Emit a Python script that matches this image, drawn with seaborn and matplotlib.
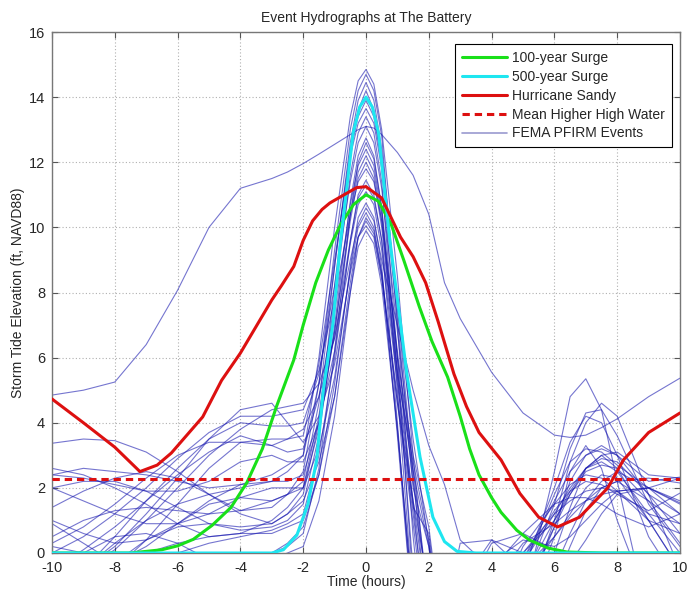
import numpy as np
import pandas as pd
import seaborn as sns
import matplotlib
matplotlib.use("Agg")
import matplotlib.pyplot as plt
from matplotlib.lines import Line2D

# common time grid (hours) for the FEMA PFIRM event hydrographs
event_time = [-10, -9, -8, -7, -6, -5, -4, -3, -2.5, -2,
              -1.5, -1, -0.5, -0.25, 0, 0.25, 0.5, 1, 1.5, 2,
              2.5, 3, 4, 5, 6, 6.5, 7, 7.5, 8, 9, 10]

# storm tide elevation for each event (ft); values < 0 fall below the axis
fema_events = [
    [-1, -0.5, 0.3, 1.0, 1.5, 1.8, 2.0, 2.2, 2.5, 3.0, 6.0, 10.0, 13.4, 14.5, 14.85, 14.4, 13.0, 8.5, 3.0, -2, -4, -5, -4, -2, 0.5, 2.5, 3.3, 2.6, 1.0, -1.5, -3],
    [3.37, 3.5, 3.45, 3.1, 2.5, 1.8, 1.3, 1.4, 1.8, 2.5, 5.2, 9.3, 13.0, 14.2, 14.7, 14.2, 12.8, 7.0, 0.5, -4, -4, -5, -4, -1.5, 2.5, 4.8, 5.35, 4.4, 2.2, -2, -3],
    [0.2, 0.0, -0.3, 0.2, 0.9, 1.5, 1.7, 1.6, 1.8, 2.2, 4.6, 8.8, 12.6, 13.9, 14.45, 13.9, 12.4, 7.5, 3.5, 0.3, -3, -5, -4, -1, 1.5, 3.2, 4.3, 4.4, 3.6, 1.5, 0.2],
    [1.4, 1.9, 2.3, 2.5, 2.3, 1.8, 1.2, 0.9, 1.2, 1.8, 4.0, 8.2, 12.2, 13.6, 14.2, 13.6, 12.0, 6.0, -1, -3, -4, -5, -3, -0.5, 1.8, 2.8, 3.2, 3.1, 2.7, 2.0, 1.5],
    [-1, -1, -0.5, 0.4, 1.5, 2.6, 3.4, 3.5, 3.5, 3.6, 5.8, 9.0, 12.2, 13.2, 13.65, 13.2, 11.8, 7.2, 2.0, 0.2, -3, -4, -2, 0.2, 1.5, 2.1, 2.4, 2.3, 1.9, 1.0, 0.6],
    [2.6, 2.4, 2.0, 1.5, 0.9, 0.5, 0.6, 1.0, 1.4, 2.0, 4.2, 7.8, 11.6, 12.9, 13.4, 12.9, 11.4, 5.5, -0.5, -3, -4, -5, -4, -2, 0.0, 1.4, 2.6, 3.0, 2.6, 1.0, -0.5],
    [-1, -0.5, 0.5, 1.6, 2.6, 3.5, 4.0, 3.9, 3.9, 4.0, 5.5, 8.2, 11.4, 12.6, 13.1, 12.6, 11.2, 6.8, 2.6, -1.5, -3, -3, -1, 0.3, 0.9, 1.3, 1.6, 1.8, 1.9, 2.0, 2.3],
    [2.0, 2.2, 2.2, 1.9, 1.4, 0.9, 0.7, 0.8, 1.0, 1.5, 3.6, 7.0, 10.8, 12.2, 12.75, 12.2, 10.6, 5.0, -1.5, -3, -4, -5, -4, -1.5, 0.8, 2.2, 3.0, 3.3, 3.0, 1.8, 1.2],
    [-0.5, 0.1, 0.8, 1.6, 2.4, 3.1, 3.6, 3.3, 3.1, 3.2, 4.8, 7.4, 10.7, 11.9, 12.4, 11.9, 10.4, 6.0, 1.5, -3, -4, -5, -3, -0.5, 2.0, 3.4, 4.2, 4.0, 3.0, 0.5, -1],
    [1.0, 0.6, 0.3, 0.4, 0.9, 1.6, 2.1, 2.2, 2.2, 2.4, 4.0, 6.8, 10.2, 11.5, 12.0, 11.5, 10.0, 5.5, 2.8, 0.4, -3, -5, -3, -0.8, 0.5, 1.1, 1.6, 2.0, 2.2, 2.3, 2.15],
    [-1, -1, -1, -0.5, 0.0, 0.3, 0.5, 0.7, 0.9, 1.2, 3.0, 6.0, 9.6, 11.0, 11.45, 11.0, 9.6, 4.0, -2, -3, -4, -5, -4, -2, -0.5, 0.6, 1.6, 2.2, 2.5, 2.0, 1.2],
    [2.4, 2.3, 2.1, 1.9, 1.9, 2.2, 2.8, 3.0, 2.8, 2.8, 4.0, 6.2, 9.5, 10.7, 11.1, 10.7, 9.3, 5.2, 1.4, 0.6, -3, -3, -1.5, 0.0, 1.2, 2.0, 2.6, 2.8, 2.5, 1.2, 0.0],
    [-1, 0.0, 0.5, 0.6, 0.3, -0.2, -0.3, 0.0, 0.3, 0.8, 2.4, 5.2, 8.8, 10.3, 10.75, 10.3, 8.8, 3.6, -2, -3, -4, -5, -4, -2.5, -1, 0.2, 1.3, 2.0, 2.2, 1.6, 0.9],
    [0.5, 1.0, 1.3, 1.4, 1.3, 1.2, 1.3, 1.6, 1.8, 2.0, 3.2, 5.4, 8.7, 10.0, 10.45, 10.0, 8.6, 4.6, 0.9, -3, -4, -4, -2, -0.2, 1.3, 1.9, 2.2, 2.1, 1.8, 1.3, 1.84],
    [-0.5, -1, -0.5, 0.0, 0.3, 0.5, 0.6, 0.6, 0.8, 1.0, 2.4, 4.8, 8.3, 9.7, 10.2, 9.8, 8.5, 4.8, 1.2, -2.5, -3, -2.5, -0.3, 0.4, 0.2, 0.5, 1.0, 1.5, 1.9, 2.0, 1.54],
    [-1, -0.5, 0.2, 1.2, 2.3, 3.5, 4.4, 4.6, 4.0, 3.4, 4.2, 5.8, 8.6, 9.7, 10.05, 9.7, 8.4, 4.6, 1.6, -1, -2, -1.5, 0.3, 0.6, 0.1, -0.3, 0.4, 1.2, 1.8, 2.0, 1.6],
    [-1, -1, -0.3, 0.4, 0.8, 0.9, 0.8, 0.9, 1.2, 1.6, 2.8, 4.8, 8.0, 9.4, 9.9, 9.5, 8.2, 3.8, -1.5, -3, -4, -5, -3, -1.2, 0.8, 1.8, 2.6, 2.9, 2.8, 1.8, 0.6],
    [0.0, 0.5, 1.2, 2.0, 2.9, 3.7, 4.2, 4.2, 4.3, 4.4, 5.6, 7.8, 10.4, 11.4, 11.8, 11.4, 10.2, 6.2, 2.2, -1.5, -2, -1, 0.4, 0.0, 1.0, 1.9, 2.6, 3.0, 3.1, 2.4, 2.3],
    [0.9, 0.3, -0.3, -0.5, -0.5, -0.3, -0.1, 0.0, 0.2, 0.6, 2.6, 6.2, 10.4, 12.0, 12.6, 12.1, 10.6, 6.0, 3.0, 0.8, -3, -5, -4, -1.8, 1.0, 2.8, 4.0, 4.6, 4.2, 1.8, -0.5],
    [2.4, 2.6, 2.5, 2.4, 2.2, 2.0, 2.1, 2.4, 2.7, 3.0, 5.2, 8.8, 12.4, 13.4, 13.9, 13.4, 12.0, 7.6, 2.4, -2.5, -4, -4, -2.5, -0.3, 1.2, 1.6, 1.9, 2.0, 1.9, 1.2, 0.9],
    [-1, -0.5, 0.1, 1.0, 2.0, 3.0, 3.8, 4.4, 4.5, 4.6, 5.2, 6.6, 9.0, 10.1, 10.6, 10.2, 9.0, 7.0, 5.0, 3.3, 2.1, 0.4, -0.5, 0.6, 1.5, 1.7, 1.7, 1.5, 1.2, 0.8, 1.2],
    [2.0, 1.6, 1.2, 0.9, 0.9, 1.2, 1.7, 2.0, 2.0, 2.0, 3.8, 6.8, 10.4, 11.7, 12.2, 11.7, 10.2, 5.6, 2.5, 0.2, -3, -5, -3, -0.8, 1.0, 1.8, 2.5, 2.7, 2.6, 1.6, 0.3],
    [-1, -1, -1, -1, -0.8, -0.5, -0.4, -0.2, 0.0, 0.2, 1.6, 4.2, 8.0, 9.7, 10.3, 9.9, 8.6, 3.8, -1.5, -3, -2, 0.3, 0.4, -0.5, 0.5, 1.2, 2.0, 2.4, 2.3, 1.0, -0.5],
    [0.3, 0.8, 1.5, 2.3, 3.0, 3.4, 3.4, 3.3, 3.5, 3.8, 4.8, 6.6, 9.6, 10.9, 11.3, 10.9, 9.6, 5.4, 1.6, -2, -4, -4, -2, -0.2, 1.6, 2.5, 3.0, 3.2, 3.0, 2.2, 2.33],
    [4.85, 5.0, 5.25, 6.4, 8.07, 10.0, 11.2, 11.5, 11.7, 11.96, 12.25, 12.55, 12.85, 13.0, 13.1, 13.05, 12.85, 12.3, 11.6, 10.4, 8.3, 7.2, 5.55, 4.3, 3.62, 3.55, 3.62, 3.85, 4.12, 4.8, 5.37],
]

surge100_t = [-10, -7.5, -6.5, -6, -5.5, -4.9, -4.3, -3.8, -3.3, -2.85, -2.3, -2.0, -1.6, -1.2, -0.8, -0.4, 0,
              0.4, 0.8, 1.2, 1.7, 2.1, 2.6, 3.0, 3.3, 3.6, 4.0, 4.3, 4.8, 5.2, 5.8, 6.4, 7.5, 10]
surge100_y = [0, 0, 0.1, 0.22, 0.42, 0.85, 1.4, 2.15, 3.2, 4.5, 5.93, 7.0, 8.3, 9.3, 10.1, 10.7, 11.0,
              10.8, 10.1, 9.0, 7.56, 6.5, 5.4, 4.2, 3.2, 2.4, 1.7, 1.25, 0.7, 0.4, 0.15, 0.03, 0, 0]

surge500_t = [-10, -3, -2.63, -2.2, -1.85, -1.57, -1.36, -1.05, -0.83, -0.41, -0.2, 0, 0.2, 0.4, 0.76, 1.0, 1.3, 1.72, 2.13, 2.5, 2.9, 3.5, 10]
surge500_y = [0, 0, 0.1, 0.55, 1.5, 2.86, 5.0, 7.06, 9.4, 12.9, 13.7, 14.0, 13.7, 12.9, 9.6, 7.8, 5.5, 2.95, 1.1, 0.35, 0.05, 0, 0]

sandy_t = [-10, -9, -8, -7.2, -6.65, -6.2, -5.2, -4.6, -4, -3, -2.7, -2.3, -2.0, -1.7, -1.4, -1.15, -0.7, -0.3, 0,
           0.5, 1.1, 1.5, 1.9, 2.3, 2.8, 3.2, 3.6, 4.3, 4.9, 5.5, 6.1, 6.8, 7.7, 8.2, 9, 10]
sandy_y = [4.73, 4.0, 3.25, 2.5, 2.7, 3.07, 4.18, 5.3, 6.14, 7.77, 8.2, 8.8, 9.6, 10.2, 10.55, 10.75, 11.0, 11.22, 11.25,
           10.9, 9.7, 9.1, 8.3, 7.1, 5.5, 4.5, 3.7, 2.86, 1.83, 1.1, 0.8, 1.1, 2.0, 2.86, 3.7, 4.3]

mhhw = 2.28

x_ticks = np.arange(-10, 11, 2)
y_ticks = np.arange(0, 17, 2)

events_df = pd.DataFrame(
    [(i, t, v) for i, ev in enumerate(fema_events) for t, v in zip(event_time, ev)],
    columns=["event", "time", "elev"],
)

sns.set_style("ticks")
plt.rcParams["font.family"] = ["Liberation Sans", "DejaVu Sans"]
plt.rcParams["axes.unicode_minus"] = False

fig = plt.figure(figsize=(6.91, 5.95), dpi=100)
ax = fig.add_axes([52 / 691, 1 - 553 / 595, 628 / 691, 521 / 595])

fema_color = "#1a1ab0"
sns.lineplot(data=events_df, x="time", y="elev", units="event", estimator=None,
             color=fema_color, lw=0.8, alpha=0.6, ax=ax, zorder=2)
sns.lineplot(x=surge100_t, y=surge100_y, color="#19e019", lw=2.2, ax=ax, zorder=3)
sns.lineplot(x=surge500_t, y=surge500_y, color="#1ee6f0", lw=2.2, ax=ax, zorder=3)
sns.lineplot(x=sandy_t, y=sandy_y, color="#dd1010", lw=2.2, ax=ax, zorder=4)
ax.axhline(mhhw, color="#dd1010", lw=2.2, ls=(0, (2.4, 1.6)), zorder=4)

ax.set_xlim(-10, 10)
ax.set_ylim(0, 16)
ax.set_xticks(x_ticks)
ax.set_yticks(y_ticks)
ax.tick_params(direction="in", top=True, right=True, labelsize=10.5, length=4,
               color="#555555")
ax.tick_params(axis="x", pad=6)
ax.tick_params(axis="y", pad=5)
ax.grid(True, ls=(0, (1, 2)), color="#b0b0b0", lw=0.8)
for s in ax.spines.values():
    s.set_color("#777777")
    s.set_linewidth(1.0)

ax.set_title("Event Hydrographs at The Battery", fontsize=10, pad=7)
ax.set_xlabel("Time (hours)", fontsize=10, labelpad=0)
ax.set_ylabel("Storm Tide Elevation (ft, NAVD88)", fontsize=10, labelpad=3)

handles = [
    Line2D([], [], color="#19e019", lw=2.2),
    Line2D([], [], color="#1ee6f0", lw=2.2),
    Line2D([], [], color="#dd1010", lw=2.2),
    Line2D([], [], color="#dd1010", lw=2.2, ls=(0, (2.4, 1.6))),
    Line2D([], [], color="#9a9ad0", lw=1.2),
]
labels = ["100-year Surge", "500-year Surge", "Hurricane Sandy",
          "Mean Higher High Water", "FEMA PFIRM Events"]
leg = ax.legend(handles, labels, loc="upper right",
                bbox_to_anchor=((672 - 52) / 628, (553 - 44) / 521),
                borderaxespad=0, fontsize=10, handlelength=3.2,
                labelspacing=0.35, handletextpad=0.4, borderpad=0.5,
                fancybox=False, framealpha=1, edgecolor="black")
leg.get_frame().set_linewidth(0.8)

fig.savefig("out.png", dpi=100)
